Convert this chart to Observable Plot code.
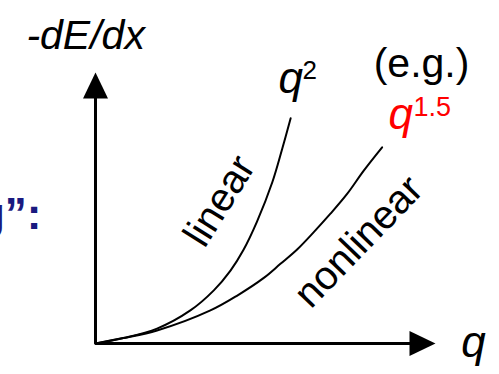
<!DOCTYPE html>
<html>
<head>
<meta charset="utf-8">
<script src="https://cdn.jsdelivr.net/npm/d3@7"></script>
<script src="https://cdn.jsdelivr.net/npm/@observablehq/plot@0.6"></script>
<style>
  html, body { margin: 0; padding: 0; background: #fff; }
  #chart svg { display: block; }
</style>
</head>
<body>
<div id="chart"></div>
<script>
// ---- data (q in arbitrary units, -dE/dx in arbitrary units) ----
const q2Q  = [0, 0.82, 1.81, 2.79, 3.48, 3.97, 4.35, 4.75, 5.20, 5.49, 5.74];
const q2E  = [0, 0.20, 0.55, 1.22, 1.96, 2.69, 3.45, 4.50, 5.95, 7.18, 8.31];
const q15Q = [0, 0.82, 1.81, 3.38, 4.17, 4.95, 5.44, 5.93, 6.42, 6.91, 7.40, 7.89, 8.43];
const q15E = [0, 0.20, 0.48, 1.22, 1.77, 2.42, 2.94, 3.47, 4.11, 4.79, 5.52, 6.38, 7.24];
const axisQ = [0, 0, 9.3];
const axisE = [9.2, 0, 0];
const axisEnd = 10;

const curveQ2 = q2Q.map((q, i) => ({q, e: q2E[i]}));
const curveQ15 = q15Q.map((q, i) => ({q, e: q15E[i]}));
const axisPath = axisQ.map((q, i) => ({q, e: axisE[i]}));

// filled arrowheads (tip at the symbol's origin)
const headUp = {draw(ctx) { ctx.moveTo(0, 0); ctx.lineTo(12.5, 26); ctx.lineTo(-12.5, 26); ctx.closePath(); }};
const headRight = {draw(ctx) { ctx.moveTo(0, 0); ctx.lineTo(-26, 12.5); ctx.lineTo(-26, -12.5); ctx.closePath(); }};

const font = "Liberation Sans, Arial, sans-serif";

const chart = Plot.plot({
  width: 499,
  height: 374,
  marginLeft: 95,
  marginRight: 64,
  marginTop: 72,
  marginBottom: 31,
  style: {fontFamily: font, background: "#fff", overflow: "visible"},
  x: {domain: [0, axisEnd], axis: null},
  y: {domain: [0, axisEnd], axis: null},
  marks: [
    Plot.line(axisPath, {x: "q", y: "e", stroke: "black", strokeWidth: 3, strokeLinejoin: "miter", strokeLinecap: "butt"}),
    Plot.dot([{q: 0, e: axisEnd}], {x: "q", y: "e", symbol: headUp, fill: "black", stroke: null}),
    Plot.dot([{q: axisEnd, e: 0}], {x: "q", y: "e", symbol: headRight, fill: "black", stroke: null}),
    Plot.line(curveQ2, {x: "q", y: "e", curve: "catmull-rom", stroke: "black", strokeWidth: 2}),
    Plot.line(curveQ15, {x: "q", y: "e", curve: "catmull-rom", stroke: "black", strokeWidth: 2}),
    // axis titles
    Plot.text(["-dE/dx"], {x: -0.29, y: 10.87, text: d => d, fontSize: 41, fontStyle: "italic", textAnchor: "middle", lineAnchor: "bottom", fill: "black"}),
    Plot.text(["q"], {x: 10.76, y: -0.48, text: d => d, fontSize: 44, fontStyle: "italic", textAnchor: "start", lineAnchor: "bottom", fill: "black"}),
    // curve labels
    Plot.text(["q"], {x: 5.38, y: 9.26, text: d => d, fontSize: 44, fontStyle: "italic", textAnchor: "start", lineAnchor: "bottom", fill: "black"}),
    Plot.text(["2"], {x: 5.38, y: 9.26, dx: 24, dy: -14, text: d => d, fontSize: 26, textAnchor: "start", lineAnchor: "bottom", fill: "black"}),
    Plot.text(["(e.g.)"], {x: 9.59, y: 9.82, text: d => d, fontSize: 41, textAnchor: "middle", lineAnchor: "bottom", fill: "black"}),
    Plot.text(["q"], {x: 8.62, y: 7.93, text: d => d, fontSize: 44, fontStyle: "italic", textAnchor: "start", lineAnchor: "bottom", fill: "#ff0000"}),
    Plot.text(["1.5"], {x: 8.62, y: 7.93, dx: 25, dy: -13, text: d => d, fontSize: 27, textAnchor: "start", lineAnchor: "bottom", fill: "#ff0000"}),
    Plot.text(["linear"], {x: 3.65, y: 5.26, text: d => d, fontSize: 40, rotate: -58, textAnchor: "middle", fill: "black"}),
    Plot.text(["nonlinear"], {x: 7.74, y: 3.76, text: d => d, fontSize: 40, rotate: -46, textAnchor: "middle", fill: "black"}),
    // clipped fragment of preceding slide text
    Plot.text(["g\u201D:"], {x: -1.59, y: 4.21, text: d => d, fontSize: 44, fontWeight: "bold", textAnchor: "end", lineAnchor: "bottom", fill: "#1a1a80"})
  ]
});
document.getElementById("chart").appendChild(chart);
</script>
</body>
</html>
